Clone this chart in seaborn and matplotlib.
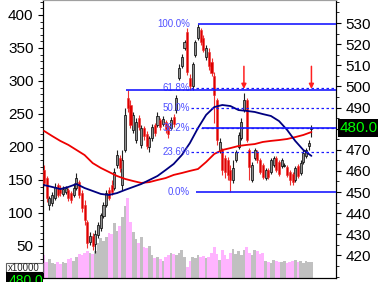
import numpy as np
import pandas as pd
import matplotlib
matplotlib.use("Agg")
import matplotlib.pyplot as plt
from matplotlib.ticker import MultipleLocator
from matplotlib.patches import Rectangle
import seaborn as sns

# ---------------- data ----------------
opens = [460.4,456.6,443.9,444.8,447.2,453.3,451.9,449.1,450.0,451.0,
         449.5,448.6,451.9,454.7,449.5,443.9,435.8,426.3,429.2,425.4,
         429.7,433.0,438.6,443.9,451.0,453.3,451.9,462.8,466.1,453.3,
         469.9,494.5,491.2,479.4,474.6,485.0,472.3,480.3,477.5,471.3,
         475.6,481.7,481.7,484.1,482.2,483.1,481.3,480.3,485.5,488.8,
         504.0,509.7,518.2,525.8,504.0,500.2,514.9,522.9,526.7,522.9,
         513.9,516.3,511.5,504.9,493.6,469.9,469.9,466.1,465.2,460.4,
         455.7,465.2,471.3,475.6,488.8,493.6,469.9,455.7,466.1,468.9,
         465.2,462.8,456.6,460.4,459.5,462.8,466.1,464.2,462.3,462.3,
         461.8,459.5,458.5,455.7,462.3,459.0,464.2,467.1,471.8,479.8]
closes = [454.3,447.2,447.2,448.6,452.4,448.6,449.5,451.4,451.9,447.2,
          446.2,451.9,456.6,448.6,442.4,436.8,425.9,429.2,424.4,430.1,
          434.4,439.1,443.9,449.5,447.2,450.0,459.5,467.5,461.4,465.2,
          486.5,489.8,481.7,486.5,483.1,480.8,480.3,476.5,471.8,475.6,
          480.8,477.9,486.0,480.8,484.6,479.8,477.5,484.1,482.2,494.5,
          508.7,513.9,521.0,506.8,500.2,510.6,521.0,528.1,521.0,517.2,
          518.2,509.7,506.3,495.9,474.6,473.7,460.4,459.5,458.1,455.7,
          461.4,468.9,477.0,483.1,493.6,474.6,461.8,462.8,469.9,465.2,
          459.5,457.1,460.4,457.1,465.2,466.1,460.4,458.5,465.2,462.8,
          458.1,455.7,454.7,461.4,457.6,463.7,468.5,469.9,473.2,480.0]
highs = [462.8,457.6,448.1,450.0,454.3,454.3,453.3,452.9,452.9,451.9,
         450.5,454.3,459.0,455.7,451.0,446.2,436.8,431.1,430.6,432.0,
         435.8,440.1,445.3,451.0,452.4,455.7,461.4,469.9,467.5,469.9,
         489.8,498.3,493.6,487.9,485.0,486.5,481.7,481.3,478.9,476.5,
         482.2,482.7,487.9,485.0,486.0,484.1,482.2,485.5,486.9,495.9,
         510.6,515.3,522.0,527.6,505.9,511.5,522.0,529.5,527.6,524.3,
         519.6,518.2,513.4,506.8,494.5,475.6,470.8,467.5,466.6,462.8,
         465.2,469.9,478.4,485.0,496.9,494.5,470.8,464.2,470.8,469.9,
         466.1,463.7,461.4,461.4,466.1,467.1,467.1,465.2,466.1,463.7,
         462.8,460.4,459.5,462.3,463.3,465.2,469.9,470.8,474.6,481.7]
lows = [452.9,445.3,441.5,443.4,446.2,447.6,448.1,448.1,449.1,445.7,
        444.8,447.6,451.0,447.2,440.5,434.4,423.5,424.9,422.6,421.1,
        428.2,431.5,437.7,442.9,446.2,448.6,451.0,461.4,459.5,451.0,
        468.9,487.9,480.3,477.9,473.2,479.4,470.8,474.6,470.4,468.9,
        474.2,476.5,480.8,479.4,481.3,477.9,475.6,479.4,480.8,487.4,
        503.0,508.7,517.2,505.4,498.3,498.3,513.9,522.0,519.6,516.3,
        512.5,507.8,504.9,482.7,472.3,468.5,458.1,456.6,455.7,450.0,
        454.3,464.2,470.4,474.6,487.9,473.7,455.7,454.7,465.2,463.7,
        458.5,456.2,455.7,456.2,458.5,461.8,459.5,457.6,461.4,461.8,
        457.1,453.3,453.3,454.7,456.6,458.1,463.3,466.1,469.9,476.0]
volumes = [36,26,30,24,22,25,23,26,24,30,
           32,28,33,38,36,40,42,40,38,42,
           55,62,58,64,70,68,85,72,80,94,
           110,123,86,71,60,55,63,48,47,50,
           36,32,34,30,28,33,37,40,38,36,
           40,44,33,18,28,34,32,36,33,35,
           32,34,40,48,38,29,44,36,30,40,
           46,38,42,36,44,48,40,36,44,42,
           38,40,28,26,24,29,27,25,26,28,
           24,25,27,29,26,28,24,27,26,25]
ma_step = 3
ma_red = [478.9,476.5,474.2,472.3,469.9,467.5,463.7,461.4,459.5,457.6,
          456.2,455.2,454.3,454.7,455.7,456.6,458.1,459.0,460.0,460.9,
          464.2,468.0,469.9,470.8,471.8,472.3,472.7,473.7,474.2,474.6,
          475.1,476.0,477.0,478.4]
ma_navy = [453.3,452.4,451.4,452.4,453.8,451.9,450.5,449.1,448.6,449.5,
           451.0,452.4,453.8,455.7,457.6,460.4,463.3,467.5,473.2,480.3,
           486.5,490.2,491.2,490.7,488.8,488.4,487.9,486.9,486.0,483.6,
           479.4,474.2,469.9,467.1]
fib_low, fib_high = 450.0, 529.5
fib_pcts = [0.0, 23.6, 38.2, 50.0, 61.8, 100.0]
resistance = 498.2
arrow_idx = [74, 99]
last_price = "480.0"
vol_ticks = [50, 100, 150, 200, 250, 300, 350, 400]
price_ticks = [420, 430, 440, 450, 460, 470, 480, 490, 500, 510, 520, 530]

# ---------------- style ----------------
sns.set_style("white")
plt.rcParams["font.family"] = ["Liberation Sans", "DejaVu Sans"]

W, H = 378, 282
fig = plt.figure(figsize=(W / 100, H / 100), dpi=100)
ax = fig.add_axes([43 / W, 4 / H, 293 / W, 278 / H])
ax2 = ax.twinx()

n = len(closes)
idx = np.arange(n)
o = np.array(opens); c = np.array(closes)
hi = np.array(highs); lo = np.array(lows)
up = c >= o

# volume
vol_colors = np.where(up, "#c0c0c0", "#ffb4ff")
ax.bar(idx, volumes, width=1.0, color=vol_colors, linewidth=0)
ax.set_ylim(1.5, 422.7)
ax.set_xlim(-0.4, 108.1)

# candles
wick_colors = np.where(up, "#202020", "#ee3030")
ax2.vlines(idx, lo, hi, colors=wick_colors, lw=0.8, zorder=3)
body_h = np.maximum(np.abs(c - o), 0.35)
body_b = np.minimum(o, c)
ax2.bar(idx[up], body_h[up], bottom=body_b[up], width=0.75,
        color="#909090", edgecolor="black", linewidth=0.5, zorder=4)
ax2.bar(idx[~up], body_h[~up], bottom=body_b[~up], width=0.75,
        color="#dd0000", edgecolor="#ee3030", linewidth=0.4, zorder=4)

# moving averages
ma_x = np.arange(0, n, ma_step)
df = pd.DataFrame({"x": ma_x, "red": ma_red, "navy": ma_navy})
sns.lineplot(data=df, x="x", y="red", ax=ax2, color="#ee0000", lw=1.3, zorder=5)
sns.lineplot(data=df, x="x", y="navy", ax=ax2, color="#000080", lw=1.3, zorder=5)

# fibonacci
blue = "#1a1aff"
xr = 108.1
for p in fib_pcts:
    lvl = fib_low + p / 100 * (fib_high - fib_low)
    ax2.text(54.1, lvl, f"{p:.1f}%", ha="right", va="center",
             color="#5050ff", fontsize=7, zorder=6)
    if p in (23.6, 50.0, 61.8, 38.2):
        ax2.hlines(lvl, 54.4, xr, colors=blue, lw=0.9, linestyles=(0, (2, 2)), zorder=6)
ax2.hlines(fib_high, 57, xr, colors=blue, lw=1.2, zorder=6)
ax2.hlines(fib_low, 56.3, xr, colors=blue, lw=1.2, zorder=6)
ax2.hlines(fib_low + 0.382 * (fib_high - fib_low), 58.5, xr, colors=blue, lw=1.2, zorder=6)
ax2.hlines(resistance, 30.5, xr, colors=blue, lw=1.2, zorder=6)

for a in arrow_idx:
    ax2.annotate("", xy=(a, resistance + 0.6), xytext=(a, 509.5),
                 arrowprops=dict(arrowstyle="-|>", color="#ff2020", lw=1.1,
                                 mutation_scale=7, shrinkA=0, shrinkB=0), zorder=7)

ax2.set_ylim(409.3, 540.9)
ax2.set_xlim(-0.4, 108.1)

# ticks & spines
for a_, ticks, minor in ((ax, vol_ticks, 10), (ax2, price_ticks, 5)):
    a_.set_yticks(ticks)
    a_.yaxis.set_minor_locator(MultipleLocator(minor))
    a_.tick_params(axis="y", which="major", direction="out", length=3.8, width=0.8,
                   labelsize=11, pad=3, colors="black")
    a_.tick_params(axis="y", which="minor", direction="out", length=2.2, width=0.7)
    a_.set_xticks([])
    a_.set_xlabel("")
    a_.set_ylabel("")
    a_.grid(False)
    for s in ("left", "right", "bottom"):
        a_.spines[s].set_color("black")
        a_.spines[s].set_linewidth(0.8)
    a_.spines["top"].set_color("#a0a0a0")
ax.yaxis.tick_left()
ax2.yaxis.tick_right()
ax.tick_params(axis="y", which="both", left=True, right=False)
ax2.tick_params(axis="y", which="both", left=False, right=True)
# the last-price box covers the 480 tick label in the reference
ax2.set_yticklabels(["" if t == 480 else str(t) for t in price_ticks])

# last price box
fig.text(340 / W, 1 - 128 / H, last_price, color="#00ff00", fontsize=11,
         ha="left", va="center",
         bbox=dict(boxstyle="square,pad=0.15", fc="black", ec="none"), zorder=10)

# bottom-left unit boxes
fig.patches.append(Rectangle((6 / W, 1 - 272 / H), 37 / W, 9 / H, transform=fig.transFigure,
                             fc="white", ec="#606060", lw=0.8, zorder=9))
fig.text(24 / W, 1 - 268 / H, "x10000", fontsize=7, ha="center", va="center", zorder=10)
fig.patches.append(Rectangle((6 / W, 0), 37 / W, 10 / H, transform=fig.transFigure,
                             fc="black", ec="none", zorder=9))
fig.text(9 / W, 1 - 274 / H, last_price, color="#00ff00", fontsize=10,
         ha="left", va="top", zorder=10)

fig.savefig("out.png", dpi=100, facecolor="white")
